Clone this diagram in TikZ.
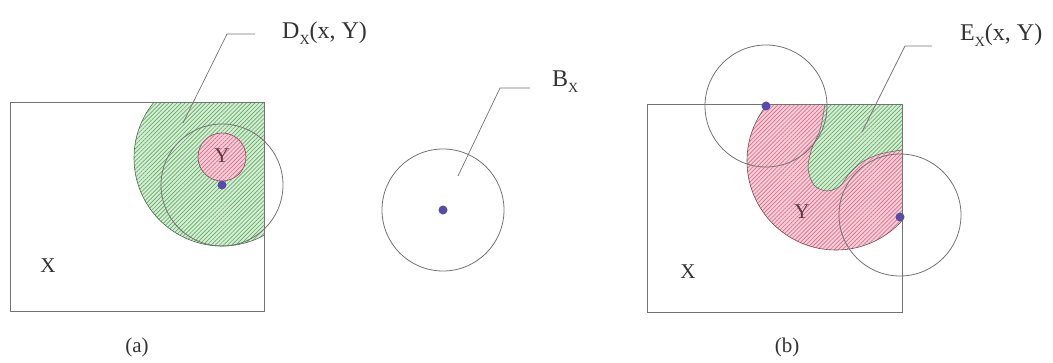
\documentclass[tikz,border=0pt]{standalone}
\usepackage{fontspec}
\setmainfont{Liberation Serif}
\usetikzlibrary{patterns.meta}
\definecolor{gfill}{RGB}{212,240,210}
\definecolor{gline}{RGB}{100,165,105}
\definecolor{gedge}{RGB}{70,110,75}
\definecolor{pfill}{RGB}{250,205,216}
\definecolor{pline}{RGB}{212,110,135}
\definecolor{pedge}{RGB}{120,70,80}
\definecolor{dotc}{RGB}{85,75,170}
\definecolor{edgec}{RGB}{115,115,115}
\definecolor{txtc}{RGB}{50,50,50}
\newcommand{\subX}{\raisebox{-0.28em}{\fontsize{14}{14}\selectfont X}}
\begin{document}
\begin{tikzpicture}[x=1pt,y=-1pt,
  outline/.style={draw=edgec,line width=0.8pt},
  leader/.style={draw=edgec,line width=0.7pt},
  greenhatch/.style={fill=gfill,postaction={pattern={Lines[angle=45,distance=2.9pt,line width=0.65pt]},pattern color=gline}},
  pinkhatch/.style={fill=pfill,postaction={pattern={Lines[angle=45,distance=2.9pt,line width=0.65pt]},pattern color=pline}},
  ptdot/.style={circle,fill=dotc,inner sep=0pt,minimum size=9pt},
  lbl/.style={font=\fontsize{24}{28}\selectfont,text=txtc,inner sep=0pt},
  small/.style={font=\fontsize{21}{25}\selectfont,text=txtc,inner sep=0pt}
]
\useasboundingbox (0,0) rectangle (1053,362);

% ---------- panel (a) ----------
\begin{scope}
  \clip (10,102) rectangle (264,311);
  \path[greenhatch] (222,158) circle[radius=88];
  \draw[gedge,line width=0.6pt] (222,158) circle[radius=88];
\end{scope}
\path[pinkhatch,draw=pedge,line width=0.6pt] (222,157) circle[radius=24];
\draw[outline] (222,185) circle[radius=61];
\draw[outline] (10,102) rectangle (264,311);
\node[ptdot] (xa) at (222,185) {};
\node[small] (Xa) at (48,266) {X};
\node[small,text=pedge!80!black] (Ya) at (222,156) {Y};
\node[small] (capa) at (137,347) {(a)};
\node[lbl,anchor=base west] (Dlab) at (282,38) {D\subX(x, Y)};
\coordinate (Dk) at (227,34);
\coordinate (Dt) at (183,123);
\draw[leader] ([xshift=-27pt,yshift=4pt]Dlab.base west) -- (Dk) -- (Dt);

% ---------- B_X ----------
\draw[outline] (443,210) circle[radius=61];
\node[ptdot] (xb) at (443,210) {};
\node[lbl,anchor=base west] (Blab) at (552,86) {B\subX};
\coordinate (Bk) at (500,88);
\coordinate (Bt) at (458,176);
\draw[leader] ([xshift=-22pt,yshift=-2pt]Blab.base west) -- (Bk) -- (Bt);

% ---------- panel (b) ----------
\begin{scope}
  \clip (647,104) rectangle (902,312);
  \path[pinkhatch] (836,161) circle[radius=89];
  \draw[pedge,line width=0.6pt] (836,161) circle[radius=89];
\end{scope}
\path[greenhatch] (825,104) -- (902,104) -- (902,150)
  -- plot[smooth,tension=0.55] coordinates {(902,150) (880,154) (862,162) (849,174) (840,186) (827,191) (814,185) (808,168) (812,148) (820,130) (825,104)}
  -- cycle;
\draw[gedge!60!pedge,line width=0.5pt]
  plot[smooth,tension=0.55] coordinates {(902,150) (880,154) (862,162) (849,174) (840,186) (827,191) (814,185) (808,168) (812,148) (820,130) (825,104)};
\draw[outline] (766,106) circle[radius=61];
\draw[outline] (900,215) circle[radius=61];
\draw[outline] (647,104) rectangle (902,312);
\node[ptdot] (x1) at (766,106) {};
\node[ptdot] (x2) at (900,217) {};
\node[small] (Xb) at (688,272) {X};
\node[small,text=pedge!80!black] (Yb) at (802,212) {Y};
\node[small] (capb) at (787,347) {(b)};
\node[lbl,anchor=base west] (Elab) at (960,40) {E\subX(x, Y)};
\coordinate (Ek) at (905,46);
\coordinate (Et) at (862,132);
\draw[leader] ([xshift=-28pt,yshift=-6pt]Elab.base west) -- (Ek) -- (Et);
\end{tikzpicture}
\end{document}
